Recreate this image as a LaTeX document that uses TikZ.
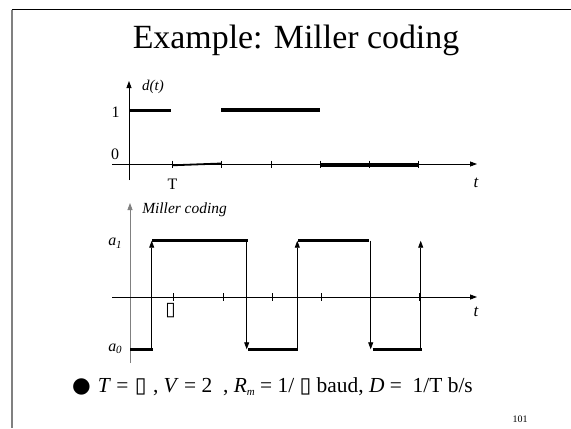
\documentclass[tikz,border=0pt]{standalone}
\usepackage{fontspec}
\setmainfont{Liberation Serif}
\newfontfamily\symfont{DejaVu Sans}
\usetikzlibrary{arrows.meta}

\newcommand\lowsub[1]{\raisebox{-0.35ex}{\fontsize{11}{11}\selectfont\textit{#1}}}

\begin{document}
\begin{tikzpicture}[x=1bp, y=-1bp,
    axis/.style={line width=0.8bp, -{Triangle[length=7bp,width=5bp]}},
    edge/.style={line width=0.8bp, -{Triangle[length=7bp,width=5bp]}},
    level/.style={line width=3.2bp},
    tickmark/.style={line width=0.8bp},
    lbl/.style={inner sep=0pt, font=\fontsize{16}{16}\selectfont}]

    \useasboundingbox (0,0) rectangle (571,428);

    % slide frame
    \draw[line width=1.2bp] (11.5,9.5) -- (571,9.5);
    \draw[gray, line width=1.5bp] (12,9.5) -- (12,428);

    % title
    \node[anchor=base, inner sep=0pt, font=\fontsize{34}{34}\selectfont] (title) at (296,48) {Example: Miller coding};

    % data signal d(t)
    \draw[axis] (129,180) -- (129,81);
    \draw[axis] (112,164) -- (477,164);
    \foreach \x in {172,221,271,320,369,418}
        \draw[tickmark] (\x,160.5) -- (\x,167.5);
    \draw[level] (129,110.7) -- (171,110.7);
    \draw[level] (221,110) -- (320,110);
    \draw[line width=1.8bp] (172,165.3) -- (221,163.5);
    \draw[level] (320,165) -- (418,165);

    \node[lbl] (one) at (115.5,112.5) {1};
    \node[lbl] (zero) at (115,154.5) {0};
    \node[lbl, font=\fontsize{15}{15}\selectfont\itshape] (dt) at (153,86.5) {d(t)};
    \node[lbl] (bitT) at (172.5,184) {T};
    \node[lbl, font=\fontsize{17}{17}\selectfont\itshape] (ttop) at (476,183) {t};

    % Miller coded signal
    \draw[axis, gray] (130,363) -- (130,203);
    \draw[axis] (112,297) -- (477,297);
    \foreach \x in {173,223,272,321,370,419}
        \draw[tickmark] (\x,293) -- (\x,300.5);

    \draw[level] (130,349.3) -- (153,349.3);
    \draw[edge] (151.7,349.3) -- (151.7,240.7);
    \draw[level] (152,240.7) -- (247.7,240.7);
    \draw[edge] (246.7,240.7) -- (246.7,349.3);
    \draw[level] (248.3,349.3) -- (297.7,349.3);
    \draw[edge] (297.3,349.3) -- (297.3,240.7);
    \draw[level] (298.3,240.7) -- (369.3,240.7);
    \draw[edge] (370.7,240.7) -- (370.7,349.3);
    \draw[level] (372.7,349.3) -- (421.7,349.3);
    \draw[edge] (420.7,349.3) -- (420.7,240.7);

    \node[lbl, font=\fontsize{15.5}{15.5}\selectfont\itshape] (miller) at (184.5,210) {Miller coding};
    \node[lbl] (aone) at (115,243) {\textit{a}\lowsub{1}};
    \node[lbl] (azero) at (115,349) {\textit{a}\lowsub{0}};
    \node[lbl, font=\fontsize{19}{19}\symfont] (tau) at (170.5,310.5) {▯};
    \node[lbl, font=\fontsize{17}{17}\selectfont\itshape] (tbot) at (476,312) {t};

    % parameters
    \node[anchor=base west, inner sep=0pt, font=\fontsize{21.5}{21.5}\selectfont] (params) at (72,392)
        {{\symfont ●}\hspace{7bp}\textit{T} = \hspace{1bp}{\symfont ▯}\hspace{1bp} , \textit{V} = 2 \ , \textit{R}\lowsub{m} = 1/ {\symfont ▯} baud, \textit{D} = \ 1/T b/s};

    % slide number
    \node[inner sep=0pt, font=\fontsize{10}{10}\selectfont] (pagenum) at (520,419.5) {101};

\end{tikzpicture}
\end{document}
